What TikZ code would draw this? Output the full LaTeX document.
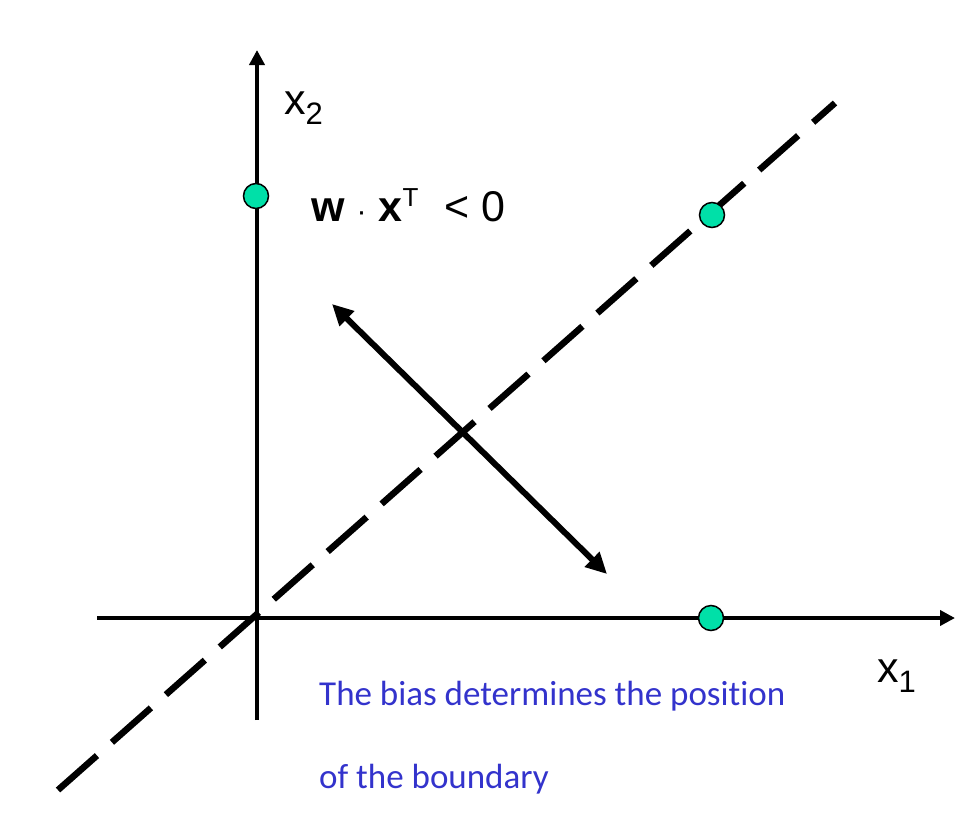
\documentclass[tikz,border=0pt]{standalone}
\usepackage{fontspec}
\setmainfont{Liberation Sans}
\newfontfamily\calib[Ligatures=NoCommon]{Carlito}
\usetikzlibrary{arrows.meta}
\definecolor{dotgreen}{RGB}{0,224,168}
\definecolor{textblue}{RGB}{51,51,204}
\begin{document}
\begin{tikzpicture}[x=1pt,y=-1pt,
 axis/.style={line width=4pt,-{Triangle[length=15pt,width=15pt]}},
 boundary/.style={line width=6.5pt,dash pattern=on 52pt off 20pt},
 normalvec/.style={line width=6pt,{Triangle[length=21pt,width=20pt]}-{Triangle[length=21pt,width=20pt]}},
 datapt/.style={circle,draw=black,line width=1.5pt,fill=dotgreen,minimum size=25pt,inner sep=0pt},
 axlbl/.style={inner sep=0pt,anchor=base west,font=\fontsize{43}{43}\selectfont},
 formula/.style={inner sep=0pt,anchor=base west,font=\fontsize{43}{43}\selectfont},
 note/.style={inner sep=0pt,anchor=base west,text=textblue,font=\calib\fontsize{35}{35}\selectfont}]
\useasboundingbox (0,0) rectangle (976,819);
\coordinate (ybot) at (257,720);
\coordinate (ytop) at (257,50);
\coordinate (xleft) at (97,618);
\coordinate (xright) at (955,618);
\coordinate (bstart) at (58,790);
\coordinate (bend) at (835,103);
\coordinate (nA) at (332,304);
\coordinate (nB) at (607,574);
\draw[axis] (ybot) -- (ytop);
\draw[axis] (xleft) -- (xright);
\draw[boundary] (bstart) -- (bend);
\draw[normalvec] (nB) -- (nA);
\node[datapt] (p1) at (256,196) {};
\node[datapt] (p2) at (712,215) {};
\node[datapt] (p3) at (711,618) {};
\node[axlbl] (lx2) at (284,114) {x\raisebox{-10pt}{\fontsize{31}{31}\selectfont 2}};
\node[axlbl] (lx1) at (877,682) {x\raisebox{-10pt}{\fontsize{31}{31}\selectfont 1}};
\node[formula] (ineq) at (311,221) {\textbf{w}\hspace{12pt}{\fontsize{30}{30}\selectfont ·}\hspace{12pt}\textbf{x}\raisebox{15pt}{\fontsize{26}{26}\selectfont T}\hspace{26pt}< 0};
\node[note] (n1) at (319,705) {The bias determines the position};
\node[note] (n2) at (319,788) {of the boundary};
\end{tikzpicture}
\end{document}
